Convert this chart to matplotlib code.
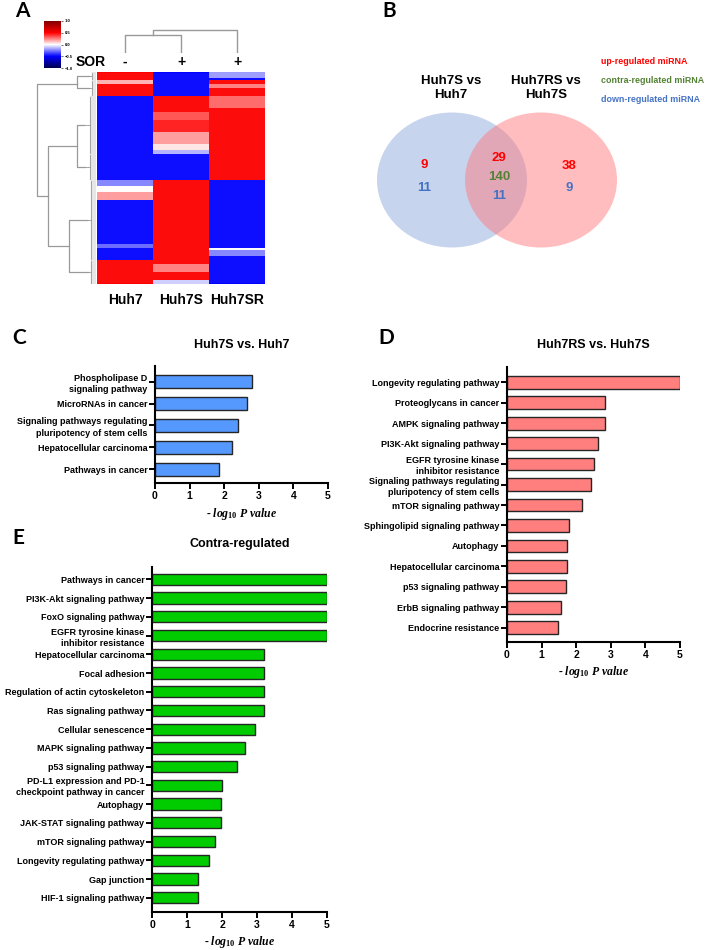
import matplotlib
matplotlib.use("Agg")
import matplotlib.pyplot as plt
from matplotlib.patches import Ellipse
import numpy as np

plt.rcParams['font.family'] = ['Liberation Sans', 'DejaVu Sans']
plt.rcParams['font.weight'] = 'bold'
plt.rcParams['mathtext.fontset'] = 'custom'
plt.rcParams['mathtext.it'] = 'Liberation Serif:italic:bold'
plt.rcParams['mathtext.rm'] = 'Liberation Serif:bold'

W, H = 708, 950

# ---- data ----
# heatmap blocks: (rows, Huh7, Huh7S, Huh7SR), top to bottom
heat_blocks = [
    (3, 0.5, -0.5, -0.2), (1, 0.5, -0.5, -0.5), (2, 0.15, -0.5, 0.5),
    (2, 0.5, -0.5, 0.25), (4, 0.5, -0.5, 0.5), (6, -0.5, 0.5, 0.3),
    (2, -0.5, 0.5, 0.5), (4, -0.5, 0.35, 0.5), (6, -0.5, 0.45, 0.5),
    (6, -0.5, 0.2, 0.5), (3, -0.5, 0.05, 0.5), (2, -0.5, -0.15, 0.5),
    (13, -0.5, -0.5, 0.5), (3, -0.25, 0.5, -0.5), (3, 0.0, 0.5, -0.5),
    (4, 0.2, 0.5, -0.5), (22, -0.5, 0.5, -0.5), (2, -0.3, 0.5, -0.5),
    (1, -0.5, 0.5, 0.0), (3, -0.5, 0.5, -0.25), (2, -0.5, 0.5, -0.5),
    (2, 0.5, 0.5, -0.5), (4, 0.5, 0.25, -0.5), (4, 0.5, 0.5, -0.5),
    (2, 0.5, -0.1, -0.5),
]
heat_cols = ['Huh7', 'Huh7S', 'Huh7SR']
sor_marks = ['-', '+', '+']

# row dendrogram: leaf clusters (first row, last row, height) and links (y1, y2, h1, top, h2)
leaf_clusters = [(0, 4, 0.12), (4, 12, 0.12), (12, 41, 0.2), (41, 54, 0.18),
                 (54, 94, 0.16), (94, 106, 0.14)]
row_links = [(2, 8, 0.12, 0.32, 0.12), (26.5, 47.5, 0.2, 0.32, 0.18),
             (74, 100, 0.16, 0.46, 0.14), (37, 87, 0.32, 0.81, 0.46),
             (6, 62, 0.32, 1.0, 0.81)]

venn_titles = ['Huh7S vs\nHuh7', 'Huh7RS vs\nHuh7S']
venn_left = [9, 11]
venn_mid = [29, 140, 11]
venn_right = [38, 9]
venn_legend = ['up-regulated miRNA', 'contra-regulated miRNA', 'down-regulated miRNA']
venn_colors = ['#ff0000', '#548235', '#4472c4']

c_labels = ['Phospholipase D\nsignaling pathway', 'MicroRNAs in cancer',
            'Signaling pathways regulating\npluripotency of stem cells',
            'Hepatocellular carcinoma', 'Pathways in cancer']
c_vals = [2.79, 2.67, 2.39, 2.23, 1.86]

d_labels = ['Longevity regulating pathway', 'Proteoglycans in cancer',
            'AMPK signaling pathway', 'PI3K-Akt signaling pathway',
            'EGFR tyrosine kinase\ninhibitor resistance',
            'Signaling pathways regulating\npluripotency of stem cells',
            'mTOR signaling pathway', 'Sphingolipid signaling pathway', 'Autophagy',
            'Hepatocellular carcinoma', 'p53 signaling pathway',
            'ErbB signaling pathway', 'Endocrine resistance']
d_vals = [5.0, 2.82, 2.82, 2.62, 2.5, 2.44, 2.18, 1.78, 1.73, 1.73, 1.71, 1.55, 1.46]

e_labels = ['Pathways in cancer', 'PI3K-Akt signaling pathway', 'FoxO signaling pathway',
            'EGFR tyrosine kinase\ninhibitor resistance', 'Hepatocellular carcinoma',
            'Focal adhesion', 'Regulation of actin cytoskeleton', 'Ras signaling pathway',
            'Cellular senescence', 'MAPK signaling pathway', 'p53 signaling pathway',
            'PD-L1 expression and PD-1\ncheckpoint pathway in cancer', 'Autophagy',
            'JAK-STAT signaling pathway', 'mTOR signaling pathway',
            'Longevity regulating pathway', 'Gap junction', 'HIF-1 signaling pathway']
e_vals = [5, 5, 5, 5, 3.21, 3.21, 3.21, 3.21, 2.95, 2.67, 2.42, 2.01, 1.98, 1.98,
          1.81, 1.63, 1.30, 1.30]

fig = plt.figure(figsize=(W / 100, H / 100), dpi=100)


def px_axes(x0, y0, x1, y1):
    return fig.add_axes([x0 / W, 1 - y1 / H, (x1 - x0) / W, (y1 - y0) / H])


def px_text(x, y, s, **kw):
    fig.text(x / W, 1 - y / H, s, **kw)


# panel letters
for letter, (x, y) in zip('ABCDE', [(22, 11), (389, 11), (19, 338), (386, 338), (18, 538)]):
    px_text(x, y, letter, family=['Lato', 'DejaVu Sans'], fontsize=15, weight='bold',
            ha='center', va='center')

# ---- A: heatmap ----
rows = []
for n, a, b, c in heat_blocks:
    rows += [[a, b, c]] * n
mat = np.array(rows)
nrows = len(mat)

ax_h = px_axes(97, 72, 265, 284)
im = ax_h.imshow(mat, cmap='seismic', vmin=-1, vmax=1, aspect='auto', interpolation='nearest')
ax_h.hlines(np.arange(1, nrows) - 0.5, -0.5, 2.5, color='white', lw=0.3, alpha=0.25)
ax_h.set_xticks([])
ax_h.set_yticks([])
for s in ax_h.spines.values():
    s.set_visible(False)
for i, name in enumerate(heat_cols):
    px_text(125 + 56 * i, 300, name, fontsize=10, ha='center', va='center')
    px_text(125 + 56 * i, 62, sor_marks[i], fontsize=10, ha='center', va='center')
px_text(91, 62, 'SOR', fontsize=10, ha='center', va='center')

cax = px_axes(44, 21, 61, 68)
cb = fig.colorbar(im, cax=cax, ticks=[-1, -0.5, 0, 0.5, 1])
cb.ax.set_yticklabels(['\u22121.0', '\u22120.5', '0.0', '0.5', '1.0'])
cb.ax.tick_params(labelsize=3, length=1.5, width=0.4, pad=1)
cb.outline.set_visible(False)

# column dendrogram
ax_cd = px_axes(97, 29, 265, 53)
ax_cd.set_xlim(0, 3)
ax_cd.set_ylim(0, 1.05)
ax_cd.axis('off')
gcol = '#999999'
ax_cd.plot([0.5, 0.5, 1.5, 1.5], [0, 0.8, 0.8, 0], color=gcol, lw=1)
ax_cd.plot([1.0, 1.0, 2.5, 2.5], [0.8, 1.0, 1.0, -0.05], color=gcol, lw=1)

# row dendrogram
ax_rd = px_axes(36, 72, 96, 284)
ax_rd.set_xlim(1.02, 0)
ax_rd.set_ylim(nrows, 0)
ax_rd.axis('off')
for r0, r1, h in leaf_clusters:
    for r in range(r0, r1):
        ax_rd.plot([0, h * 0.55], [r + 0.5, r + 0.5], color=gcol, lw=0.35)
    ax_rd.plot([h * 0.55, h * 0.55], [r0 + 0.5, r1 - 0.5], color=gcol, lw=0.6)
    mid = (r0 + r1) / 2
    ax_rd.plot([h * 0.55, h], [mid, mid], color=gcol, lw=0.6)
for y1, y2, h1, top, h2 in row_links:
    ax_rd.plot([h1, top, top, h2], [y1, y1, y2, y2], color=gcol, lw=0.9)

# ---- B: Venn ----
ax_v = px_axes(360, 100, 630, 260)
ax_v.set_xlim(360, 630)
ax_v.set_ylim(260, 100)
ax_v.axis('off')
ax_v.add_patch(Ellipse((452, 180), 150, 135, facecolor='#8faadc', alpha=0.5, lw=0))
ax_v.add_patch(Ellipse((541, 180), 152, 135, facecolor='#ff7c80', alpha=0.5, lw=0))
px_text(451, 88, venn_titles[0], fontsize=9.5, ha='center', va='center', linespacing=1.3)
px_text(546, 88, venn_titles[1], fontsize=9.5, ha='center', va='center', linespacing=1.3)
for i, t in enumerate(venn_legend):
    px_text(601, 62 + 18.5 * i, t, fontsize=6.4, color=venn_colors[i], ha='left', va='center')
px_text(424, 165, str(venn_left[0]), fontsize=9.5, color=venn_colors[0], ha='center', va='center')
px_text(424, 188, str(venn_left[1]), fontsize=9.5, color=venn_colors[2], ha='center', va='center')
for i, v in enumerate(venn_mid):
    px_text(499, 158 + 19 * i, str(v), fontsize=9.5, color=venn_colors[i], ha='center', va='center')
px_text(569, 166, str(venn_right[0]), fontsize=9.5, color=venn_colors[0], ha='center', va='center')
px_text(569, 188, str(venn_right[1]), fontsize=9.5, color=venn_colors[2], ha='center', va='center')


# ---- bar panels ----
def bar_panel(box, labels, vals, color, title, title_y, ylims, height, label_y):
    ax = px_axes(*box)
    y = np.arange(len(vals))
    ax.barh(y, vals, height=height, color=color, edgecolor='#262626', lw=1)
    ax.set_yticks(y)
    ax.set_yticklabels(labels, fontsize=6.5, linespacing=1.3)
    ax.set_ylim(*ylims)
    ax.set_xlim(0, 5)
    ax.set_xticks(range(6))
    ax.tick_params(axis='x', labelsize=7.5, length=4, width=1.4, pad=2)
    ax.tick_params(axis='y', length=4, width=1.4, pad=1.5)
    for s in ['top', 'right']:
        ax.spines[s].set_visible(False)
    for s in ['left', 'bottom']:
        ax.spines[s].set_linewidth(1.5)
    cx = (box[0] + box[2]) / 2
    px_text(cx, title_y, title, fontsize=9, ha='center', va='center')
    px_text(cx, label_y, r'- $log_{10}$ P value', fontsize=8.5, ha='center', va='center',
            family='Liberation Serif', style='italic', weight='bold')
    return ax


bar_panel((155, 366, 328, 483), c_labels, c_vals, '#5599ff', 'Huh7S vs. Huh7', 345,
          (4.64, -0.73), 0.6, 514)
bar_panel((507, 367, 680, 642), d_labels, d_vals, '#ff7f7f', 'Huh7RS vs. Huh7S', 345,
          (12.7, -0.75), 0.62, 672)
bar_panel((152, 567, 327, 912), e_labels, e_vals, '#00cc00', 'Contra-regulated', 544,
          (17.76, -0.66), 0.6, 942)

fig.savefig('out.png', dpi=100)
